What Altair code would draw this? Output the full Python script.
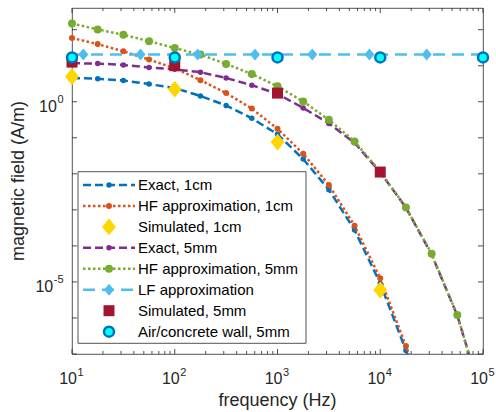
import altair as alt
import pandas as pd

# ---------------- data ----------------
freq = [10, 17.78, 31.62, 56.23, 100, 177.8, 316.2, 562.3, 1000, 1778, 3162,
        5623, 10000, 17783, 31623, 56234, 100000]
exact_1cm = [4.57, 4.37, 3.89, 3.09, 2.40, 1.45, 0.79, 0.347, 0.126, 0.0257,
             3.63e-3, 2.75e-4, 9.1e-6, 1.26e-7, 1.0e-9]
hf_1cm = [58.9, 39.8, 25.1, 14.8, 8.51, 3.98, 1.74, 0.646, 0.178, 0.0363,
          4.9e-3, 3.63e-4, 1.26e-5, 1.66e-7, 7.9e-10]
exact_5mm = [11.7, 11.5, 10.5, 8.91, 7.94, 6.61, 4.57, 2.88, 1.66, 0.676, 0.251,
             0.0724, 0.011, 1.15e-3, 5.75e-5, 1.17e-6, 5.0e-9]
hf_5mm = [148, 102, 72.4, 47.9, 30.9, 20.4, 11.2, 5.89, 2.69, 1.02, 0.316,
          0.0794, 0.0115, 1.17e-3, 6.03e-5, 1.2e-6, 5.0e-9]
sim_freq = [10, 100, 1000, 10000]
sim_1cm = [5.01, 2.24, 0.0759, 6.0e-6]
sim_5mm = [12.6, 10.0, 1.74, 0.0112]
lf_line_freq = [10, 100000]
lf_marker_freq = [12.9, 46.4, 167, 604, 2180, 7850, 28300]
lf_value = 20.4
wall_freq = [10, 100, 1000, 10000, 100000]
wall_value = 17.0

x_major = [10, 100, 1000, 10000, 100000]
x_minor = [m * d for d in [10, 100, 1000, 10000] for m in range(2, 10)]
y_major = [1e-7, 1e-6, 1e-5, 1e-4, 1e-3, 1e-2, 1e-1, 1, 10, 100]
x_label_exp = ["1", "2", "3", "4", "5"]
y_label_val = [1, 1e-5]
y_label_exp = ["0", "-5"]

names = ["Exact, 1cm", "HF approximation, 1cm", "Simulated, 1cm", "Exact, 5mm",
         "HF approximation, 5mm", "LF approximation", "Simulated, 5mm",
         "Air/concrete wall, 5mm"]

# ---------------- style ----------------
FONT = "Liberation Sans"
AX = "#262626"
W, H = 411, 346
xs = alt.Scale(type="log", domain=[10, 1e5], nice=False)
ys = alt.Scale(type="log", domain=[1e-7, 400], nice=False)
DIAMOND = "M0,-1.21L1,0L0,1.21L-1,0Z"

BLUE, ORANGE, YELLOW = "#0072BD", "#D95319", "#FFD700"
PURPLE, GREEN, LBLUE, DRED = "#7E2F8E", "#77AC30", "#4DBEEE", "#A2142F"
CYAN = "#00FFFF"

X = lambda: alt.X("f:Q", scale=xs, axis=None)
Y = lambda: alt.Y("v:Q", scale=ys, axis=None)


def line(f, v, color, dash, width=2.5):
    df = pd.DataFrame({"f": f[:len(v)], "v": v})
    return alt.Chart(df).mark_line(color=color, strokeDash=dash, strokeWidth=width,
                                   clip=True, strokeCap="butt").encode(x=X(), y=Y())


def pts(f, v, **kw):
    df = pd.DataFrame({"f": f[:len(v)], "v": v})
    return (alt.Chart(df).transform_filter(alt.datum.v >= 1e-7)
            .mark_point(clip=False, opacity=1, **kw).encode(x=X(), y=Y()))


dummy = pd.DataFrame({"a": [0]})
layers = []

# ticks (inward, MATLAB style)
tk = dict(color=AX, strokeWidth=0.8)
ydf = pd.DataFrame({"v": y_major})
layers.append(alt.Chart(ydf).mark_rule(**tk).encode(y=Y(), x=alt.value(0), x2=alt.value(5)))
layers.append(alt.Chart(ydf).mark_rule(**tk).encode(y=Y(), x=alt.value(W - 5), x2=alt.value(W)))
xdf = pd.DataFrame({"f": x_major})
layers.append(alt.Chart(xdf).mark_rule(**tk).encode(x=X(), y=alt.value(H), y2=alt.value(H - 5)))
layers.append(alt.Chart(xdf).mark_rule(**tk).encode(x=X(), y=alt.value(0), y2=alt.value(5)))
xmdf = pd.DataFrame({"f": x_minor})
layers.append(alt.Chart(xmdf).mark_rule(**tk).encode(x=X(), y=alt.value(H), y2=alt.value(H - 3)))
layers.append(alt.Chart(xmdf).mark_rule(**tk).encode(x=X(), y=alt.value(0), y2=alt.value(3)))

# series
layers += [
    line(freq, exact_1cm, BLUE, [8, 4]),
    pts(freq, exact_1cm, shape="circle", filled=True, color=BLUE, size=30),
    line(freq, hf_1cm, ORANGE, [2.5, 2.5]),
    pts(freq, hf_1cm, shape="circle", filled=True, color=ORANGE, size=36),
    pts(sim_freq, sim_1cm, shape=DIAMOND, filled=True, color=YELLOW, size=196),
    line(freq, exact_5mm, PURPLE, [8, 4]),
    pts(freq, exact_5mm, shape="circle", filled=True, color=PURPLE, size=30),
    line(freq, hf_5mm, GREEN, [2.5, 2.5]),
    pts(freq, hf_5mm, shape="circle", filled=True, color=GREEN, size=64),
    line(lf_line_freq, [lf_value] * len(lf_line_freq), LBLUE, [12, 7]),
    pts(lf_marker_freq, [lf_value] * len(lf_marker_freq), shape=DIAMOND, filled=True,
        color=LBLUE, size=100),
    pts(sim_freq, sim_5mm, shape="square", filled=True, color=DRED, size=121),
    pts(wall_freq, [wall_value] * len(wall_freq), shape="circle", filled=True,
        fill=CYAN, stroke=BLUE, strokeWidth=2.5, size=100),
]

# tick labels
xl = pd.DataFrame({"f": x_major, "e": x_label_exp})
layers.append(alt.Chart(xl).mark_text(text="10", font=FONT, fontSize=16, color=AX,
                                      align="right", baseline="alphabetic", dx=5)
              .encode(x=X(), y=alt.value(376)))
layers.append(alt.Chart(xl).mark_text(font=FONT, fontSize=11, color=AX, align="left",
                                      baseline="alphabetic", dx=5.5)
              .encode(x=X(), y=alt.value(367.5), text="e:N"))
for val, e in zip(y_label_val, y_label_exp):
    d = pd.DataFrame({"v": [val], "e": [e]})
    wexp = 11 * (0.556 * sum(c.isdigit() for c in e) + 0.333 * e.count("-"))
    layers.append(alt.Chart(d).mark_text(font=FONT, fontSize=11, color=AX, align="right",
                                         baseline="alphabetic", dy=1)
                  .encode(x=alt.value(-8.5), y=Y(), text="e:N"))
    layers.append(alt.Chart(d).mark_text(text="10", font=FONT, fontSize=16, color=AX,
                                         align="right", baseline="alphabetic", dy=10)
                  .encode(x=alt.value(-9 - wexp), y=Y()))

# axis titles
layers.append(alt.Chart(dummy).mark_text(text="frequency (Hz)", font=FONT, fontSize=18,
                                         color=AX, align="center", baseline="alphabetic")
              .encode(x=alt.value(W / 2), y=alt.value(398)))
layers.append(alt.Chart(dummy).mark_text(text="magnetic field (A/m)", font=FONT, fontSize=18,
                                         color=AX, align="center", baseline="alphabetic",
                                         angle=270)
              .encode(x=alt.value(-48), y=alt.value(173)))

# legend
LX0, LX1, LY0, LY1 = 6, 234, 163.7, 335.3
layers.append(alt.Chart(dummy).mark_rect(fill="white", stroke=AX, strokeWidth=0.8)
              .encode(x=alt.value(LX0), x2=alt.value(LX1), y=alt.value(LY0), y2=alt.value(LY1)))
leg_styles = [
    (BLUE, [8, 4], dict(shape="circle", filled=True, color=BLUE, size=30)),
    (ORANGE, [2.5, 2.5], dict(shape="circle", filled=True, color=ORANGE, size=36)),
    (None, None, dict(shape=DIAMOND, filled=True, color=YELLOW, size=196)),
    (PURPLE, [8, 4], dict(shape="circle", filled=True, color=PURPLE, size=30)),
    (GREEN, [2.5, 2.5], dict(shape="circle", filled=True, color=GREEN, size=64)),
    (LBLUE, [12, 7], dict(shape=DIAMOND, filled=True, color=LBLUE, size=100)),
    (None, None, dict(shape="square", filled=True, color=DRED, size=121)),
    (None, None, dict(shape="circle", filled=True, fill=CYAN, stroke=BLUE,
                      strokeWidth=2.5, size=100)),
]
for i, (name, (lc, dash, mk)) in enumerate(zip(names, leg_styles)):
    yy = 177 + 20.95 * i
    d = pd.DataFrame({"name": [name]})
    if lc is not None:
        layers.append(alt.Chart(d).mark_rule(color=lc, strokeDash=dash, strokeWidth=2.5)
                      .encode(x=alt.value(11), x2=alt.value(63), y=alt.value(yy)))
    layers.append(alt.Chart(d).mark_point(opacity=1, **mk)
                  .encode(x=alt.value(37), y=alt.value(yy)))
    layers.append(alt.Chart(d).mark_text(font=FONT, fontSize=15, color="black", align="left",
                                         baseline="middle")
                  .encode(x=alt.value(66), y=alt.value(yy), text="name:N"))

chart = (alt.layer(*layers)
         .properties(width=W, height=H, background="white",
                     padding={"left": 72, "top": 8, "right": 13, "bottom": 58},
                     autosize=alt.AutoSizeParams(type="none"))
         .configure_view(stroke=AX, strokeWidth=0.8))

chart.save("out.html", embed_options={"renderer": "svg", "actions": False})
